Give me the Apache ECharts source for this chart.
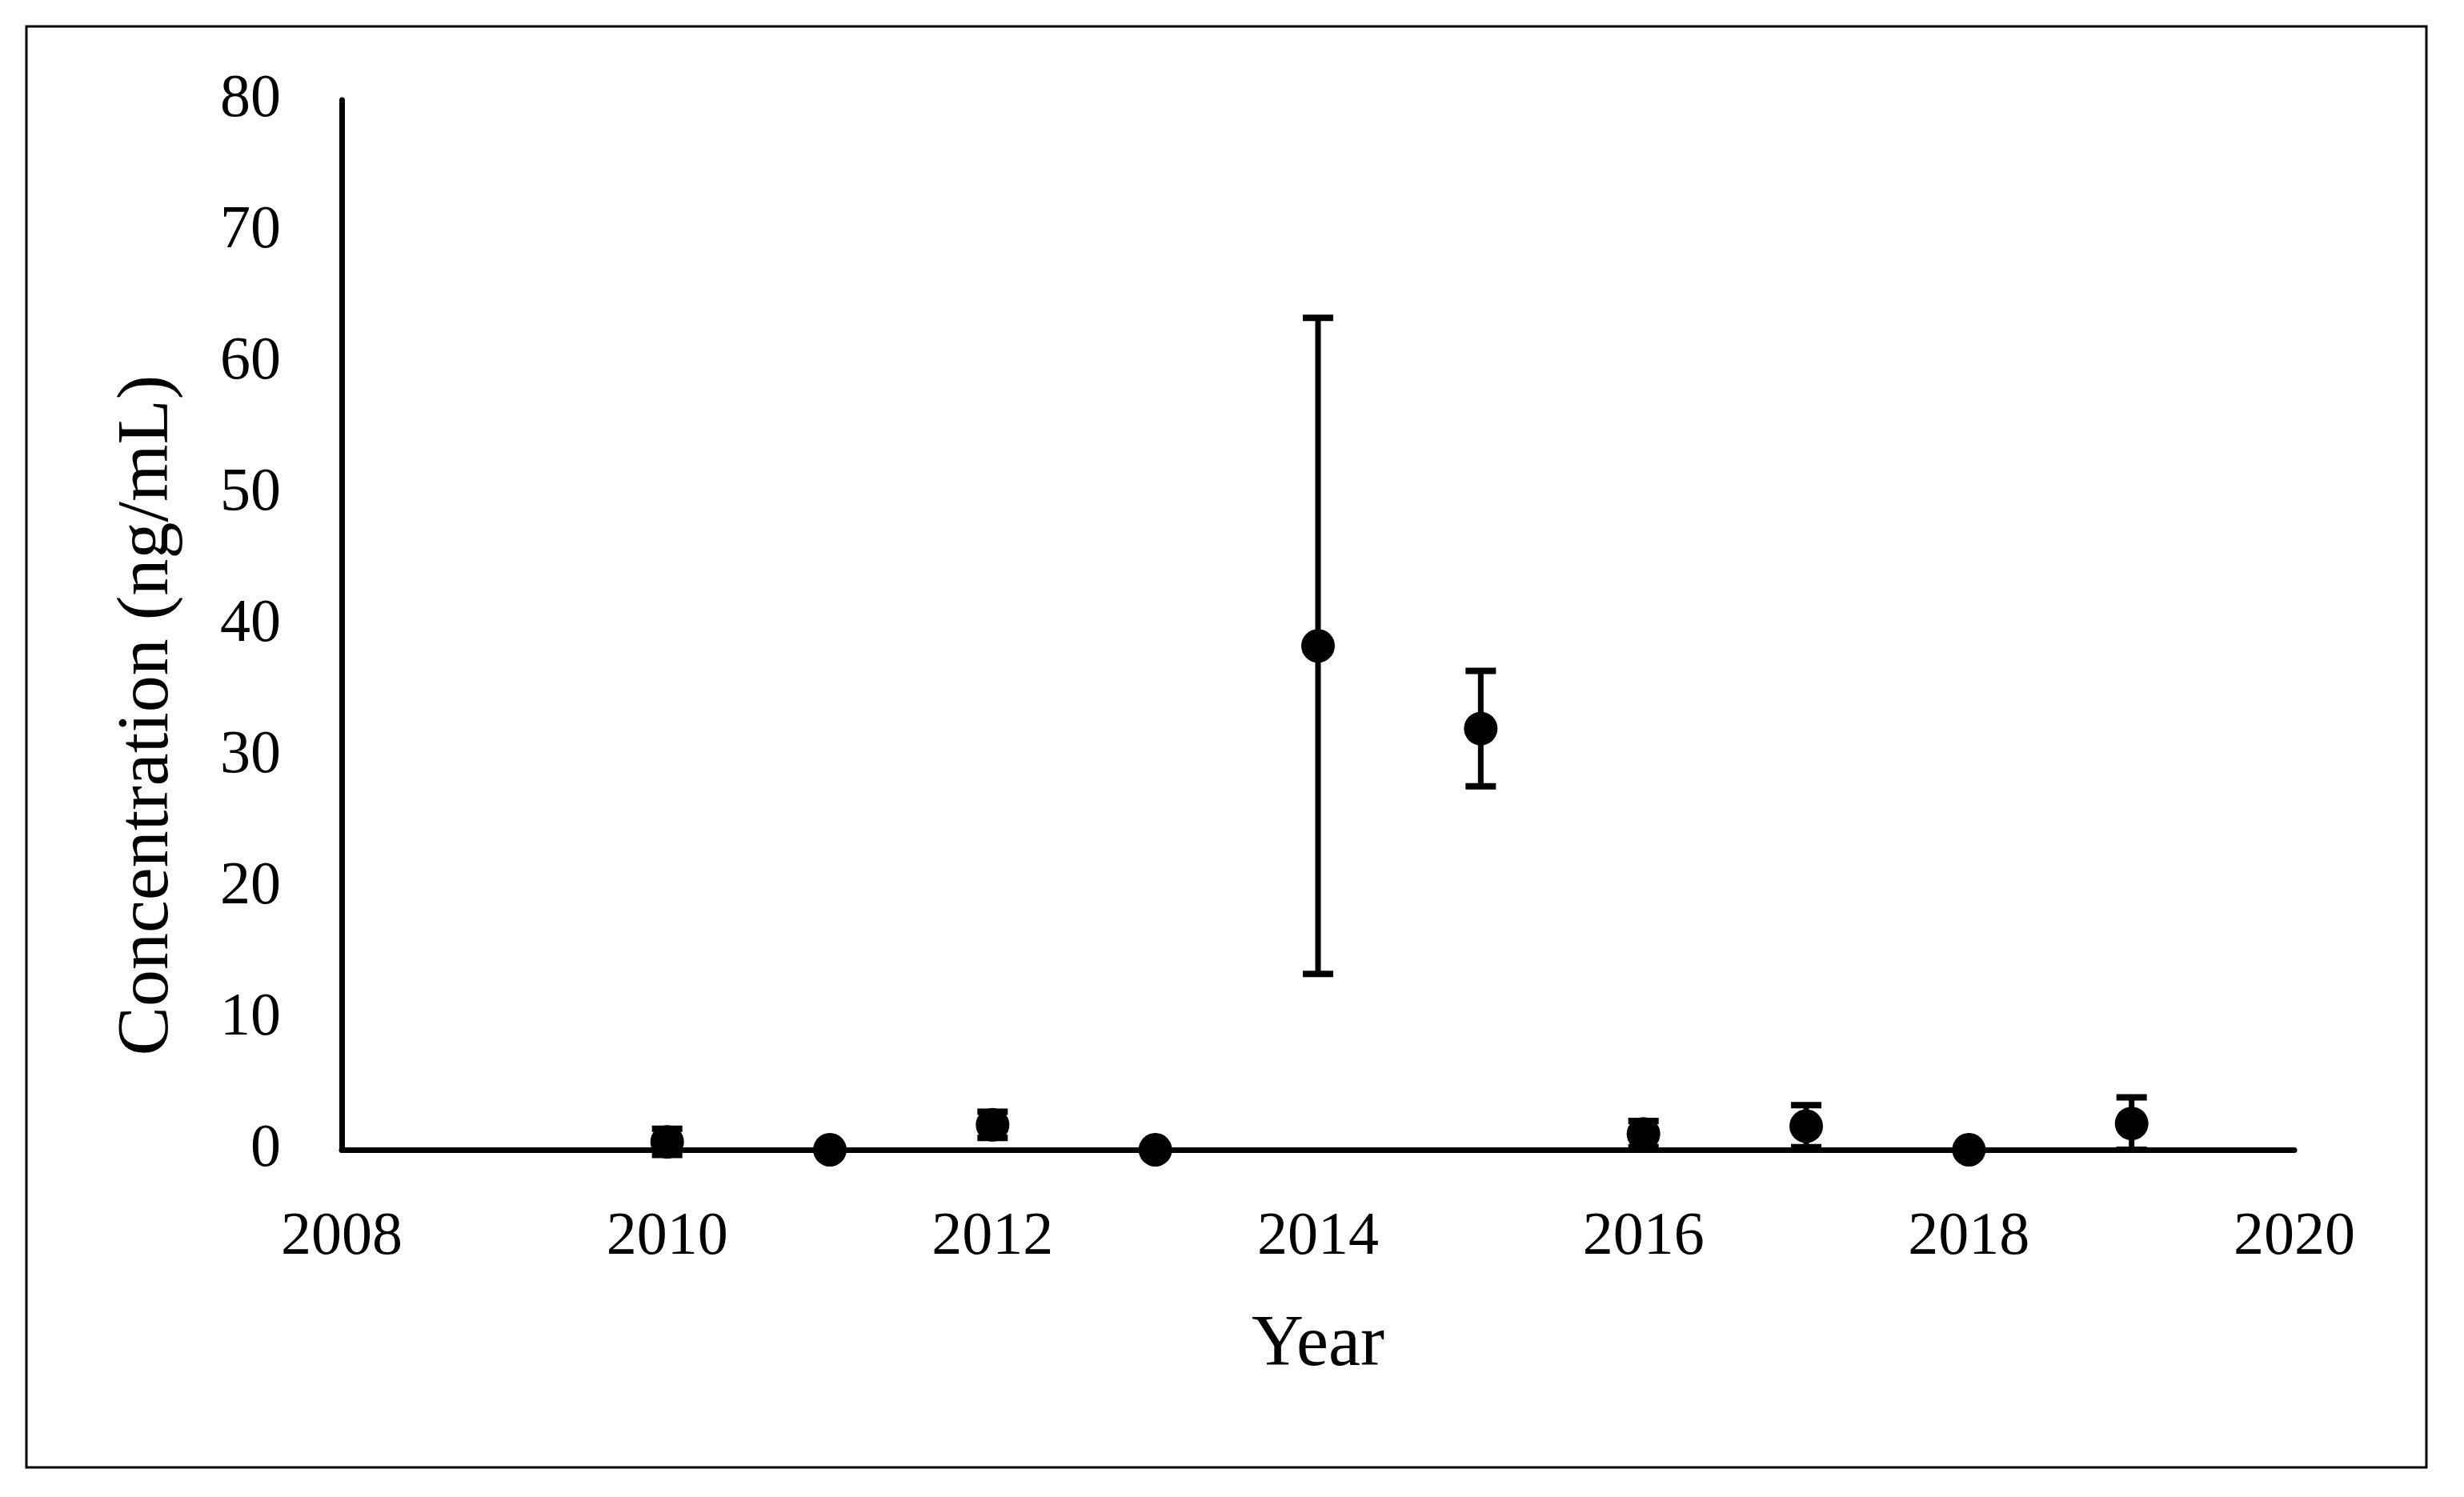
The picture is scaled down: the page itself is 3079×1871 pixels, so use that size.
<!DOCTYPE html>
<html>
<head>
<meta charset="utf-8">
<script src="https://cdn.jsdelivr.net/npm/echarts@6/dist/echarts.min.js"></script>
<style>
html,body{margin:0;padding:0;background:#fff;}
#chart{width:3079px;height:1871px;}
</style>
</head>
<body>
<div id="chart"></div>
<script>
var years = [2010, 2011, 2012, 2013, 2014, 2015, 2016, 2017, 2018, 2019];
var means = [0.6, 0, 1.9, 0, 38.4, 32.1, 1.2, 1.8, 0, 2.0];
var errors = [1.0, 0, 1.0, 0, 25.0, 4.4, 1.0, 1.6, 0, 2.0];
var yTicks = [0, 10, 20, 30, 40, 50, 60, 70, 80];
var xTicks = [2008, 2010, 2012, 2014, 2016, 2018, 2020];

var FONT = 'Liberation Serif';
var chart = echarts.init(document.getElementById('chart'));

var pointData = years.map(function (y, i) { return [y, means[i]]; });
var errData = years.map(function (y, i) { return [y, means[i] - errors[i], means[i] + errors[i]]; });

chart.setOption({
  backgroundColor: '#fff',
  animation: false,
  graphic: [{
    type: 'rect',
    shape: { x: 33, y: 33, width: 2999, height: 1801 },
    style: { fill: 'none', stroke: '#000', lineWidth: 3 },
    silent: true
  }],
  grid: { left: 427, right: 212, top: 125, bottom: 434 },
  xAxis: {
    type: 'value',
    min: xTicks[0],
    max: xTicks[xTicks.length - 1],
    interval: 2,
    name: 'Year',
    nameLocation: 'middle',
    nameGap: 200,
    nameTextStyle: { fontFamily: FONT, fontSize: 90, color: '#000' },
    axisLine: { show: true, onZero: false, lineStyle: { color: '#000', width: 7 } },
    axisTick: { show: false },
    splitLine: { show: false },
    axisLabel: { fontFamily: FONT, fontSize: 76, color: '#000', margin: 72, formatter: function (v) { return String(v); } }
  },
  yAxis: {
    type: 'value',
    min: yTicks[0],
    max: yTicks[yTicks.length - 1],
    interval: 10,
    name: 'Concentration (ng/mL)',
    nameLocation: 'middle',
    nameGap: 196,
    nameTextStyle: { fontFamily: FONT, fontSize: 92, color: '#000', padding: [0, 226, 0, 0] },
    axisLine: { show: true, lineStyle: { color: '#000', width: 7 } },
    axisTick: { show: false },
    splitLine: { show: false },
    axisLabel: { fontFamily: FONT, fontSize: 76, color: '#000', margin: 76 }
  },
  series: [
    {
      type: 'custom',
      clip: false,
      z: 3,
      data: errData,
      renderItem: function (params, api) {
        var x = api.value(0);
        var lo = api.coord([x, api.value(1)]);
        var hi = api.coord([x, api.value(2)]);
        var half = 19;
        var st = { stroke: '#000', lineWidth: 7 };
        var cap = { stroke: '#000', lineWidth: 8 };
        return {
          type: 'group',
          children: [
            { type: 'line', shape: { x1: lo[0], y1: lo[1], x2: hi[0], y2: hi[1] }, style: st },
            { type: 'line', shape: { x1: hi[0] - half, y1: hi[1], x2: hi[0] + half, y2: hi[1] }, style: cap },
            { type: 'line', shape: { x1: lo[0] - half, y1: lo[1], x2: lo[0] + half, y2: lo[1] }, style: cap }
          ]
        };
      }
    },
    {
      type: 'scatter',
      clip: false,
      z: 4,
      data: pointData,
      symbol: 'circle',
      symbolSize: 42,
      itemStyle: { color: '#000', opacity: 1 }
    }
  ]
});
</script>
</body>
</html>
